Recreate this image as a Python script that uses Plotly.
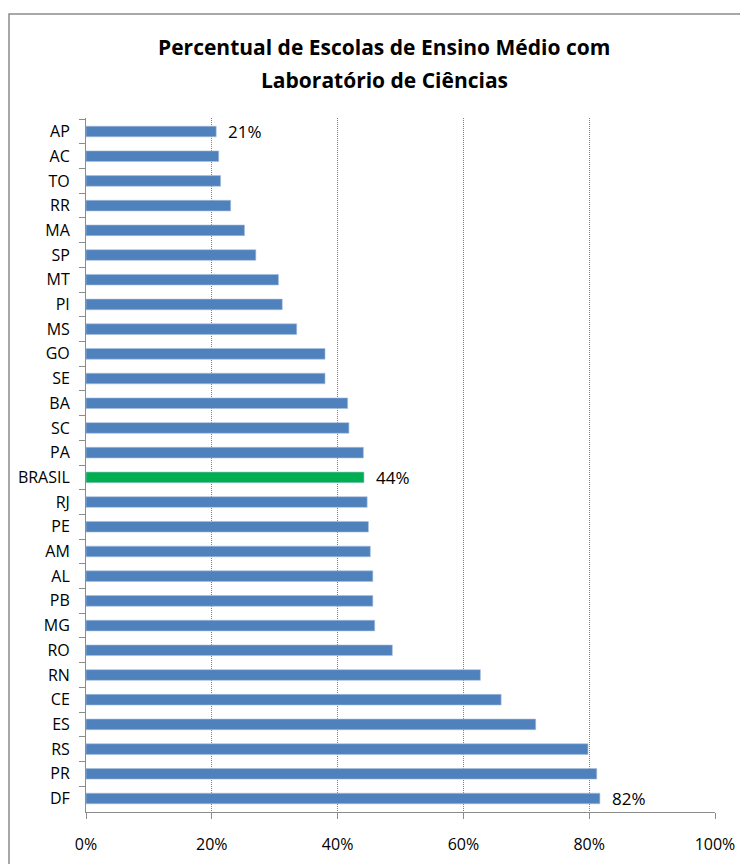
import plotly.graph_objects as go

categories = ["AP", "AC", "TO", "RR", "MA", "SP", "MT", "PI", "MS", "GO", "SE", "BA", "SC", "PA",
              "BRASIL", "RJ", "PE", "AM", "AL", "PB", "MG", "RO", "RN", "CE", "ES", "RS", "PR", "DF"]
values = [0.207, 0.211, 0.214, 0.230, 0.252, 0.270, 0.306, 0.312, 0.335, 0.380, 0.380, 0.416, 0.418, 0.441,
          0.442, 0.447, 0.449, 0.452, 0.456, 0.456, 0.459, 0.487, 0.627, 0.660, 0.715, 0.798, 0.812, 0.817]
labeled = ["AP", "BRASIL", "DF"]
label_texts = ["21%", "44%", "82%"]
x_ticks = [0, 0.2, 0.4, 0.6, 0.8, 1.0]
x_tick_labels = ["0%", "20%", "40%", "60%", "80%", "100%"]
title_lines = ["Percentual de Escolas de Ensino Médio com", "Laboratório de Ciências"]

BLUE = "#4F81BD"
GREEN = "#00B050"
colors = [GREEN if c == "BRASIL" else BLUE for c in categories]

OFF = 8  # default page margin of the browser
W, H = 748 - OFF, 864 - OFF
L, R, T, B = 86 - OFF, 33, 118 - OFF, 52
pw, ph = W - L - R, H - T - B

fig = go.Figure(go.Bar(
    x=values, y=categories, orientation="h",
    marker=dict(color=colors, line=dict(color="#A7BFDE", width=0.6)),
    width=0.43, hoverinfo="x+y",
))

FONT = "'Open Sans', sans-serif"

annotations = []
for cat, txt in zip(labeled, label_texts):
    v = values[categories.index(cat)]
    annotations.append(dict(x=v, y=cat, xref="x", yref="y", text=txt, showarrow=False,
                            xanchor="left", yanchor="middle", xshift=10, yshift=0,
                            font=dict(family=FONT, size=17, color="#000000")))

title_y = [47, 80]
for t, yy in zip(title_lines, title_y):
    annotations.append(dict(x=(384 - 86) / pw, y=1 + (118 - yy) / ph, xref="paper", yref="paper",
                            text="<b>" + t + "</b>", showarrow=False, xanchor="center", yanchor="middle",
                            font=dict(family=FONT, size=21, color="#000000")))

fig.update_layout(
    width=W, height=H,
    margin=dict(l=L, r=R, t=T, b=B, pad=0, autoexpand=False),
    paper_bgcolor="white", plot_bgcolor="white",
    showlegend=False,
    annotations=annotations,
    shapes=[dict(type="rect", xref="paper", yref="paper",
                 x0=(9 - 86) / pw, x1=(770 - 86) / pw,
                 y0=1 - (900 - 118) / ph, y1=1 + (118 - 14) / ph,
                 line=dict(color="#8C8C8C", width=1.5), fillcolor="rgba(0,0,0,0)", layer="below")],
    xaxis=dict(range=[0, 1.0], tickvals=x_ticks, ticktext=x_tick_labels,
               showgrid=True, gridcolor="#808080", griddash="1px,1px", gridwidth=1,
               showline=True, linecolor="#8C8C8C", linewidth=1,
               ticks="outside", ticklen=6, tickcolor="#8C8C8C",
               tickfont=dict(family=FONT, size=16, color="#000000"),
               ticklabelstandoff=12, automargin=False,
               zeroline=False, fixedrange=True),
    yaxis=dict(autorange="reversed", type="category", tickson="boundaries",
               showgrid=False, showline=True, linecolor="#8C8C8C", linewidth=1,
               ticks="outside", ticklen=6, tickcolor="#8C8C8C",
               tickfont=dict(family=FONT, size=16, color="#000000"),
               ticklabelstandoff=12, automargin=False, fixedrange=True),
)

fig.write_html("out.html")
